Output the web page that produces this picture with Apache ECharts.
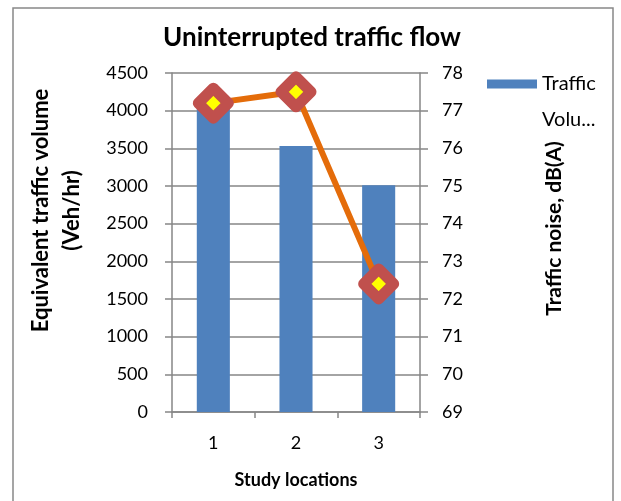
<!DOCTYPE html>
<html><head><meta charset="utf-8">
<script src="https://cdn.jsdelivr.net/npm/echarts@6/dist/echarts.min.js"></script>
<style>html,body{margin:0;padding:0;background:#fff}#c{width:621px;height:501px}</style>
</head><body><div id="c"></div>
<script>
const categories = ['1', '2', '3'];
const trafficVolume = [4050, 3530, 3010];
const trafficNoise = [77.2, 77.5, 72.4];
const leftTicks = [0, 4500, 500];
const rightTicks = [69, 78, 1];

const chart = echarts.init(document.getElementById('c'));
const font = 'Lato, "Open Sans", sans-serif';
const axisGray = '#868686';
chart.setOption({
  animation: false,
  textStyle: { fontFamily: font },
  graphic: [{ type: 'rect', shape: { x: 13, y: 8, width: 600, height: 500 }, style: { fill: 'none', stroke: '#888', lineWidth: 1.5 } }],
  title: { text: 'Uninterrupted traffic flow', left: 307, top: 20, textAlign: 'center',
    textStyle: { fontFamily: font, fontSize: 26, fontWeight: 'bold', color: '#000' } },
  legend: { data: ['Traffic Volume'], left: 487, top: 30, padding: 0, orient: 'vertical', icon: 'rect', itemWidth: 50, itemHeight: 9,
    formatter: () => '{e| }\n{a|Traffic}\n{a|Volu...}',
    textStyle: { fontFamily: font, fontSize: 20, color: '#000',
      rich: { e: { height: 36, lineHeight: 36, fontSize: 20 }, a: { fontFamily: font, fontSize: 20, color: '#000', height: 36, lineHeight: 36 } } } },
  grid: { left: 172, right: 201, top: 73, bottom: 89 },
  xAxis: { type: 'category', data: categories, name: 'Study locations', nameLocation: 'middle', nameGap: 59,
    nameTextStyle: { fontFamily: font, fontSize: 18, fontWeight: 'bold', color: '#000' },
    axisLine: { lineStyle: { color: axisGray, width: 1.5 } },
    axisTick: { show: true, alignWithLabel: false, length: 6, lineStyle: { color: axisGray, width: 1.5 } },
    axisLabel: { fontSize: 18, color: '#000', margin: 22 } },
  yAxis: [
    { type: 'value', min: leftTicks[0], max: leftTicks[1], interval: leftTicks[2],
      name: 'Equivalent traffic volume\n(Veh/hr)', nameLocation: 'middle', nameGap: 85, nameRotate: 90,
      nameTextStyle: { fontFamily: font, fontSize: 22, fontWeight: 'bold', color: '#000', lineHeight: 31, padding: [0, 0, 0, 64] },
      axisLine: { show: true, lineStyle: { color: axisGray, width: 1.5 } },
      axisTick: { show: true, length: 7, lineStyle: { color: axisGray, width: 1.5 } },
      axisLabel: { fontSize: 18, color: '#000', margin: 24, formatter: v => String(v) },
      splitLine: { lineStyle: { color: axisGray, width: 1.5 } } },
    { type: 'value', min: rightTicks[0], max: rightTicks[1], interval: rightTicks[2], position: 'right',
      name: 'Traffic noise, dB(A)', nameLocation: 'middle', nameGap: 124, nameRotate: 90,
      nameTextStyle: { fontFamily: font, fontSize: 21, fontWeight: 'bold', color: '#000', padding: [0, 0, 0, 28] },
      axisLine: { show: true, lineStyle: { color: axisGray, width: 1.5 } },
      axisTick: { show: true, length: 8, lineStyle: { color: axisGray, width: 1.5 } },
      axisLabel: { fontSize: 18, color: '#000', margin: 22, formatter: v => String(v) },
      splitLine: { show: false } }
  ],
  series: [
    { name: 'Traffic Volume', type: 'bar', data: trafficVolume, barWidth: '40%', itemStyle: { color: '#4F81BD' } },
    { name: 'Traffic Noise', type: 'line', yAxisIndex: 1, data: trafficNoise,
      lineStyle: { color: '#E46C0A', width: 6 }, symbol: 'diamond', symbolSize: 30,
      itemStyle: { color: '#FFFF00', borderColor: '#C0504D', borderWidth: 11, borderJoin: 'round' } }
  ]
});
</script></body></html>
